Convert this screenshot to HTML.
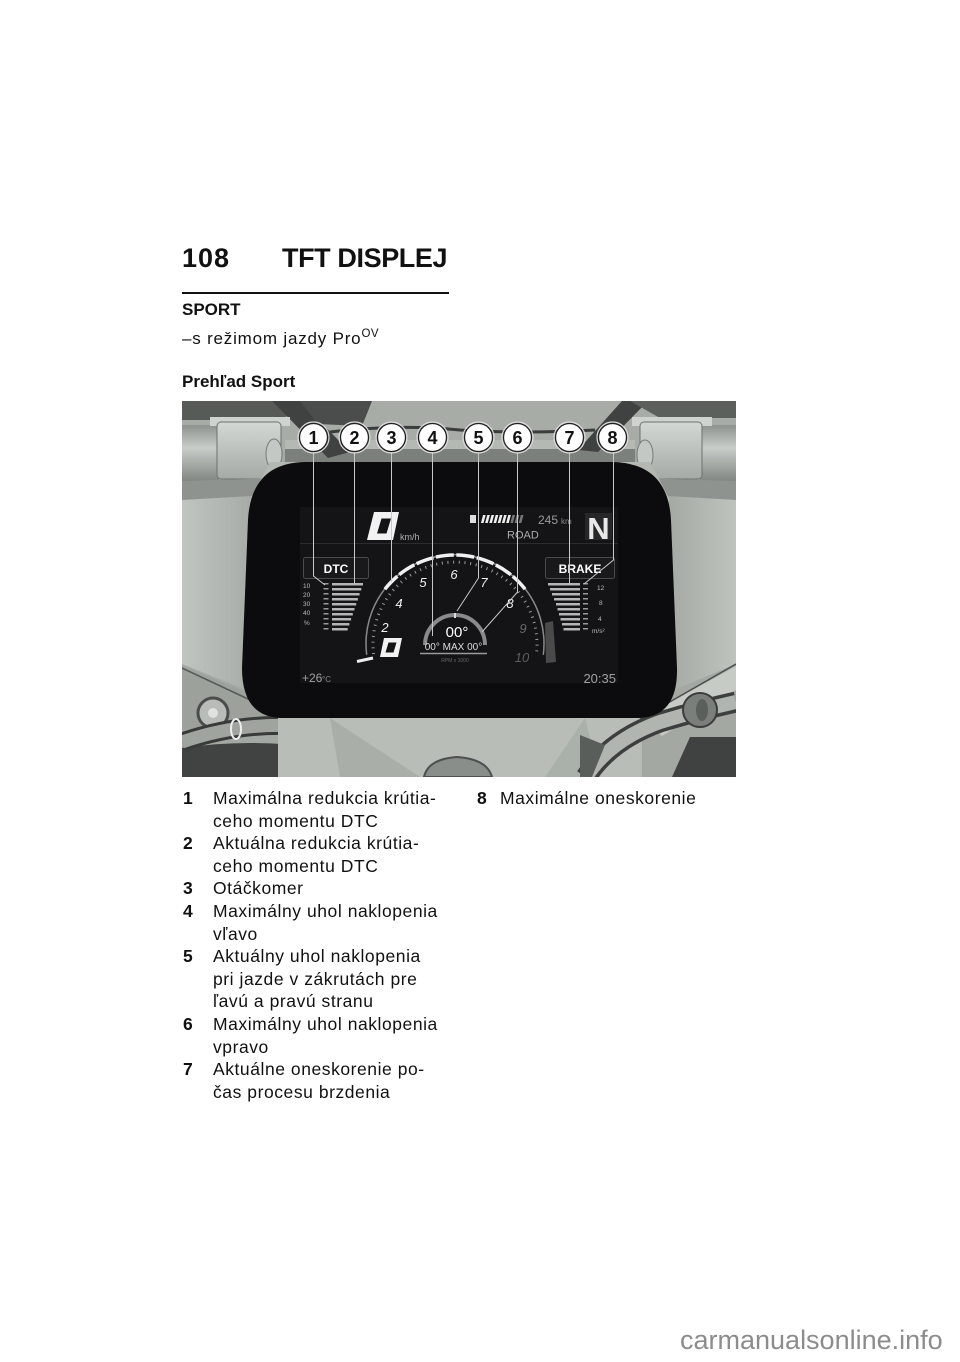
<!DOCTYPE html>
<html><head><meta charset="utf-8">
<style>
html,body{margin:0;padding:0;background:#fff;}
body{width:960px;height:1362px;position:relative;overflow:hidden;font-family:"Liberation Sans",sans-serif;color:#111;}
.a{position:absolute;white-space:nowrap;}
</style></head><body>

<div class="a" style="left:182px;top:245px;font-size:27px;line-height:27px;font-weight:bold;letter-spacing:1px;">108</div>
<div class="a" style="left:282px;top:245px;font-size:27px;line-height:27px;font-weight:bold;letter-spacing:-0.4px;">TFT DISPLEJ</div>
<div class="a" style="left:182px;top:292px;width:267px;height:2px;background:#111;"></div>
<div class="a" style="left:182px;top:301px;font-size:17px;line-height:17px;font-weight:bold;">SPORT</div>
<div class="a" style="left:182px;top:330px;font-size:17px;line-height:17px;letter-spacing:0.8px;">–s režimom jazdy Pro<span style="font-size:11.5px;position:relative;top:-7px;letter-spacing:0.5px;">OV</span></div>
<div class="a" style="left:182px;top:373px;font-size:17px;line-height:17px;font-weight:bold;">Prehľad Sport</div>

<svg class="a" style="left:182px;top:401px" width="554" height="376" viewBox="182 401 554 376" xmlns="http://www.w3.org/2000/svg">
<defs>
<linearGradient id="gl" x1="0" y1="0" x2="1" y2="0"><stop offset="0" stop-color="#c0c5c0"/><stop offset="1" stop-color="#a6aba6"/></linearGradient>
<linearGradient id="gr" x1="1" y1="0" x2="0" y2="0"><stop offset="0" stop-color="#bec3be"/><stop offset="1" stop-color="#a4a9a4"/></linearGradient>
<linearGradient id="clamp" x1="0" y1="0" x2="0" y2="1"><stop offset="0" stop-color="#d4d8d4"/><stop offset="1" stop-color="#a5aaa5"/></linearGradient>
<linearGradient id="cyl" x1="0" y1="0" x2="0" y2="1"><stop offset="0" stop-color="#8d928e"/><stop offset="0.4" stop-color="#c9cdc9"/><stop offset="1" stop-color="#7f847f"/></linearGradient>
</defs>
<rect x="182" y="401" width="554" height="376" fill="#a3a8a3"/>
<!-- top band -->
<rect x="182" y="401" width="554" height="50" fill="#a7aca7"/>
<rect x="285" y="440" width="350" height="9" fill="#b4b9b4"/>
<rect x="285" y="449" width="350" height="16" fill="#7b807c"/>
<path d="M330 432 Q400 424 460 430 Q520 434 595 430" stroke="#3a3d3b" stroke-width="3" fill="none"/>
<path d="M182 401 L292 401 L300 412 L276 420 L182 420 Z" fill="#575b58"/>
<path d="M272 401 L300 401 L350 452 L328 458 Z" fill="#3f4240"/>
<path d="M300 401 L372 401 L362 426 L318 424 Z" fill="#4a4d4b"/>
<path d="M622 401 L648 401 L598 452 L578 450 Z" fill="#3f4240"/>
<path d="M630 401 L736 401 L736 418 L660 418 Z" fill="#5c605d"/>
<!-- left clamp -->
<rect x="182" y="425" width="37" height="57" fill="url(#cyl)"/>
<rect x="210" y="417" width="80" height="9" fill="#cfd3cf"/>
<rect x="217" y="422" width="64" height="57" rx="4" fill="url(#clamp)" stroke="#6e726f"/>
<ellipse cx="274" cy="454" rx="8" ry="15" fill="#c4c8c4" stroke="#777b78"/>
<path d="M182 481 L282 478 L252 500 L182 502 Z" fill="#8e938f"/>
<!-- right clamp -->
<rect x="700" y="425" width="36" height="57" fill="url(#cyl)"/>
<rect x="632" y="417" width="80" height="9" fill="#cfd3cf"/>
<rect x="640" y="422" width="62" height="57" rx="4" fill="url(#clamp)" stroke="#6e726f"/>
<ellipse cx="645" cy="455" rx="8" ry="15" fill="#c4c8c4" stroke="#777b78"/>
<path d="M736 481 L638 478 L668 500 L736 502 Z" fill="#8e938f"/>
<!-- sides -->
<path d="M182 500 L252 496 L246 690 L182 664 Z" fill="url(#gl)"/>
<path d="M736 500 L668 496 L674 690 L736 664 Z" fill="url(#gr)"/>
<path d="M270 462 L300 462 L262 520 L250 500 Z" fill="#b3b8b3"/>
<path d="M650 462 L620 462 L660 520 L670 500 Z" fill="#b3b8b3"/>
<!-- bottom left -->
<path d="M182 666 L246 692 L280 718 L182 730 Z" fill="#9ca19c"/>
<line x1="182" y1="668" x2="280" y2="714" stroke="#555956" stroke-width="1.5"/>
<circle cx="213" cy="713" r="15" fill="#b8bcb8" stroke="#4a4d4b" stroke-width="3"/>
<circle cx="213" cy="713" r="5" fill="#dfe2df"/>
<path d="M182 748 Q250 738 320 748 L340 777 L182 777 Z" fill="#404341"/>
<path d="M182 742 Q240 722 300 726 Q330 732 338 764" stroke="#383b39" stroke-width="19" fill="none"/>
<path d="M182 742 Q240 722 300 726 Q330 732 338 764" stroke="#9fa49f" stroke-width="13" fill="none"/>
<ellipse cx="236" cy="729" rx="5" ry="10" stroke="#eeeeee" stroke-width="2" fill="none"/>
<path d="M300 733 Q342 740 348 777 L305 777 Z" fill="#2d2f2e"/>
<!-- bottom center ledge -->
<rect x="278" y="717" width="364" height="60" fill="#b8bdb8"/>
<path d="M330 718 L420 777 L340 777 Z" fill="#a9aea9"/>
<path d="M585 718 L545 777 L600 777 Z" fill="#aab0aa"/>
<path d="M424 777 Q428 759 457 757 Q487 759 492 777 Z" fill="#8a8e8b" stroke="#4d504e" stroke-width="2"/>
<!-- bottom right -->
<path d="M640 719 L736 666 L736 690 L662 736 Z" fill="#c6cbc6"/>
<line x1="640" y1="719" x2="736" y2="664" stroke="#4d504e" stroke-width="1.5"/>
<path d="M586 777 Q610 740 660 722 Q700 710 736 702" stroke="#3c3f3d" stroke-width="21" fill="none"/>
<path d="M586 777 Q610 740 660 722 Q700 710 736 702" stroke="#b0b5b0" stroke-width="14" fill="none"/>
<circle cx="700" cy="710" r="17" fill="#7b7f7c" stroke="#3a3d3b" stroke-width="2"/>
<ellipse cx="702" cy="710" rx="6" ry="11" fill="#5b5f5c"/>
<path d="M690 737 L736 737 L736 777 L672 777 Z" fill="#3f4240"/>
<path d="M580 735 L605 745 L592 777 L580 777 Z" fill="#5a5e5b"/>

<!-- bezel -->
<path d="M305 462 L612 462 Q668 463 671 520 L677 668 Q678 716 640 718 L280 718 Q242 716 242 668 L248 520 Q251 463 305 462 Z" fill="#0c0c0e"/>
<rect x="300" y="507" width="318" height="176" fill="#141416"/>
<line x1="300" y1="543.5" x2="618" y2="543.5" stroke="#2c2c2e" stroke-width="1"/>

<!-- speed -->
<path fill-rule="evenodd" fill="#f2f2f2" d="M374 512 L399 512 L393 540 L367 540 Z M381.5 518.5 L391 518.5 L386.5 533.5 L377 533.5 Z"/>
<text x="400" y="540" font-family="Liberation Sans, sans-serif" font-size="9" fill="#b0b0b0">km/h</text>
<rect x="470" y="515" width="6" height="8" fill="#dddddd"/>
<g transform="translate(482,519) skewX(-15)">
<line x1="0" y1="0" x2="29" y2="0" stroke="#eeeeee" stroke-width="8" stroke-dasharray="2.6 1.6"/>
<line x1="29.4" y1="0" x2="42" y2="0" stroke="#777777" stroke-width="8" stroke-dasharray="2.6 1.6"/>
</g>
<text x="538" y="524" font-family="Liberation Sans, sans-serif" font-size="12" fill="#9a9a9a">245</text>
<text x="561" y="524" font-family="Liberation Sans, sans-serif" font-size="8" fill="#8a8a8a">km</text>
<text x="507" y="538.5" font-family="Liberation Sans, sans-serif" font-size="11" fill="#aaaaaa">ROAD</text>
<rect x="585" y="513" width="27" height="27" fill="#262628"/>
<text x="598.5" y="539" font-family="Liberation Sans, sans-serif" font-size="31" font-weight="bold" fill="#e8e8e8" text-anchor="middle">N</text>

<!-- DTC / BRAKE boxes -->
<rect x="303.5" y="557.5" width="65" height="21" rx="2" fill="#19191b" stroke="#4a4a4c"/>
<text x="336" y="573" font-family="Liberation Sans, sans-serif" font-size="12" font-weight="bold" fill="#ffffff" text-anchor="middle">DTC</text>
<rect x="545.5" y="557.5" width="69" height="21" rx="2" fill="#19191b" stroke="#4a4a4c"/>
<text x="580" y="573" font-family="Liberation Sans, sans-serif" font-size="12" font-weight="bold" fill="#ffffff" text-anchor="middle">BRAKE</text>

<!-- DTC scale -->
<g font-family="Liberation Sans, sans-serif" font-size="6.5" fill="#bbbbbb">
<text x="303" y="588">10</text><text x="303" y="597">20</text><text x="303" y="606">30</text><text x="303" y="615">40</text><text x="304" y="625">%</text>
</g>
<line x1="326" y1="583" x2="326" y2="632" stroke="#999999" stroke-width="5" stroke-dasharray="1.5 3.5"/>
<g fill="#b5b5b5">
<rect x="332" y="583" width="31" height="2.5"/><rect x="332" y="588" width="29.3" height="2.5"/>
<rect x="332" y="593" width="27.6" height="2.5"/><rect x="332" y="598" width="25.9" height="2.5"/>
<rect x="332" y="603" width="24.2" height="2.5"/><rect x="332" y="608" width="22.5" height="2.5"/>
<rect x="332" y="613" width="20.8" height="2.5"/><rect x="332" y="618" width="19.1" height="2.5"/>
<rect x="332" y="623" width="17.4" height="2.5"/><rect x="332" y="628" width="15.7" height="2.5"/>
</g>
<!-- BRAKE scale -->
<g fill="#b5b5b5">
<rect x="548" y="583" width="32" height="2.5"/><rect x="550" y="588" width="30" height="2.5"/>
<rect x="552" y="593" width="28" height="2.5"/><rect x="554" y="598" width="26" height="2.5"/>
<rect x="556" y="603" width="24" height="2.5"/><rect x="557.5" y="608" width="22.5" height="2.5"/>
<rect x="559" y="613" width="21" height="2.5"/><rect x="560.5" y="618" width="19.5" height="2.5"/>
<rect x="562" y="623" width="18" height="2.5"/><rect x="563.5" y="628" width="16.5" height="2.5"/>
</g>
<line x1="585.5" y1="583" x2="585.5" y2="632" stroke="#999999" stroke-width="5" stroke-dasharray="1.5 3.5"/>
<g font-family="Liberation Sans, sans-serif" font-size="6.5" fill="#bbbbbb">
<text x="597" y="590">12</text><text x="599" y="605">8</text><text x="598" y="621">4</text><text x="592" y="633">m/s²</text>
</g>

<!-- tachometer -->
<path d="M366.7 654.8 A89 89 0 1 1 543.3 654.8" stroke="#8a8a8a" stroke-width="1.5" fill="none"/>
<path d="M384.9 589.2 A89 89 0 0 1 525.1 589.2" stroke="#f0f0f0" stroke-width="3.5" fill="none" stroke-dasharray="18 2.5"/>
<path d="M373.6 654 A82 82 0 1 1 536.4 654" stroke="#9a9a9a" stroke-width="3" fill="none" stroke-dasharray="1 4.7"/>
<g font-family="Liberation Sans, sans-serif" font-size="13" font-style="italic" text-anchor="middle" fill="#f0f0f0">
<text x="385" y="632">2</text><text x="399" y="608">4</text><text x="423" y="587">5</text><text x="454" y="579">6</text><text x="484" y="587">7</text><text x="510" y="608">8</text>
<text x="523" y="633" fill="#6a6a6a">9</text><text x="522" y="662" fill="#5e5e5e">10</text>
</g>
<line x1="357" y1="661.5" x2="373" y2="658" stroke="#eeeeee" stroke-width="3"/>
<path fill-rule="evenodd" fill="#f2f2f2" d="M384 638 L402 638 L398 657 L380 657 Z M388.5 642.5 L396.5 642.5 L393.5 652.5 L385.5 652.5 Z"/>
<path d="M545 623 L553 621 L556 662 L546 663 Z" fill="#4a4a4a"/>
<path d="M425 645 A30 30 0 0 1 485 645" stroke="#8a8a8a" stroke-width="4" fill="none"/>
<line x1="455" y1="613" x2="455" y2="618" stroke="#dddddd" stroke-width="2"/>
<text x="457" y="637" font-family="Liberation Sans, sans-serif" font-size="15" fill="#ffffff" text-anchor="middle">00°</text>
<text x="453.5" y="650" font-family="Liberation Sans, sans-serif" font-size="10" fill="#dddddd" text-anchor="middle">00° MAX 00°</text>
<line x1="420" y1="653.5" x2="487" y2="653.5" stroke="#999999" stroke-width="1.5"/>
<text x="455" y="662" font-family="Liberation Sans, sans-serif" font-size="5" fill="#666666" text-anchor="middle">RPM x 1000</text>

<!-- bottom texts -->
<text x="302" y="682" font-family="Liberation Sans, sans-serif" font-size="12" fill="#a0a0a0">+26</text>
<text x="322" y="682" font-family="Liberation Sans, sans-serif" font-size="8" fill="#888888">°C</text>
<text x="616" y="683" font-family="Liberation Sans, sans-serif" font-size="13" fill="#a0a0a0" text-anchor="end">20:35</text>

<!-- callout lines -->
<g stroke="#c8c8c8" stroke-width="1" fill="none">
<polyline points="313.5,451 313.5,576 325,585"/>
<polyline points="354.5,451 354.5,584"/>
<polyline points="391.5,451 391.5,582"/>
<polyline points="432.5,451 432.5,636"/>
<polyline points="478.5,451 478.5,578 457,611"/>
<polyline points="517.5,451 517.5,592 482,632"/>
<polyline points="569.5,451 569.5,585"/>
<polyline points="613.5,451 613.5,560 584,584"/>
</g>
<!-- callout circles -->
<g>
<circle cx="313.5" cy="437.5" r="15.5" fill="none" stroke="#dcdcdc" stroke-width="1.2"/>
<circle cx="354.5" cy="437.5" r="15.5" fill="none" stroke="#dcdcdc" stroke-width="1.2"/>
<circle cx="391.5" cy="437.5" r="15.5" fill="none" stroke="#dcdcdc" stroke-width="1.2"/>
<circle cx="432.5" cy="437.5" r="15.5" fill="none" stroke="#dcdcdc" stroke-width="1.2"/>
<circle cx="478.5" cy="437.5" r="15.5" fill="none" stroke="#dcdcdc" stroke-width="1.2"/>
<circle cx="517.5" cy="437.5" r="15.5" fill="none" stroke="#dcdcdc" stroke-width="1.2"/>
<circle cx="569.5" cy="437.5" r="15.5" fill="none" stroke="#dcdcdc" stroke-width="1.2"/>
<circle cx="612.5" cy="437.5" r="15.5" fill="none" stroke="#dcdcdc" stroke-width="1.2"/>
</g>
<g fill="#ffffff" stroke="#222222" stroke-width="1.3">
<circle cx="313.5" cy="437.5" r="14"/><circle cx="354.5" cy="437.5" r="14"/><circle cx="391.5" cy="437.5" r="14"/><circle cx="432.5" cy="437.5" r="14"/>
<circle cx="478.5" cy="437.5" r="14"/><circle cx="517.5" cy="437.5" r="14"/><circle cx="569.5" cy="437.5" r="14"/><circle cx="612.5" cy="437.5" r="14"/>
</g>
<g font-family="Liberation Sans, sans-serif" font-size="18" font-weight="bold" fill="#111111" text-anchor="middle">
<text x="313.5" y="444">1</text><text x="354.5" y="444">2</text><text x="391.5" y="444">3</text><text x="432.5" y="444">4</text>
<text x="478.5" y="444">5</text><text x="517.5" y="444">6</text><text x="569.5" y="444">7</text><text x="612.5" y="444">8</text>
</g>
</svg>

<div class="a" style="left:183px;top:787px;font-size:17.5px;line-height:22.6px;font-weight:bold;">1<br><br>2<br><br>3<br>4<br><br>5<br><br><br>6<br><br>7</div>
<div class="a" style="left:213px;top:787px;font-size:17.5px;line-height:22.6px;letter-spacing:0.55px;">Maximálna redukcia krútia-<br>ceho momentu DTC<br>Aktuálna redukcia krútia-<br>ceho momentu DTC<br>Otáčkomer<br>Maximálny uhol naklopenia<br>vľavo<br>Aktuálny uhol naklopenia<br>pri jazde v zákrutách pre<br>ľavú a pravú stranu<br>Maximálny uhol naklopenia<br>vpravo<br>Aktuálne oneskorenie po-<br>čas procesu brzdenia</div>
<div class="a" style="left:477px;top:787px;font-size:17.5px;line-height:22.6px;font-weight:bold;">8</div>
<div class="a" style="left:500px;top:787px;font-size:17.5px;line-height:22.6px;letter-spacing:0.55px;">Maximálne oneskorenie</div>

<div class="a" style="left:680px;top:1327px;font-size:27px;line-height:27px;color:#8c8c8c;">carmanualsonline.info</div>
</body></html>
